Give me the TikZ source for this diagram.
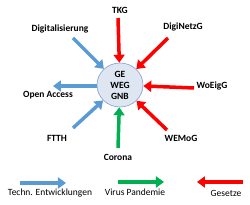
\documentclass[tikz,border=0pt]{standalone}
\usepackage{fontspec}
\setmainfont{Carlito}
\usepackage{tikz}
\usetikzlibrary{positioning,arrows.meta,shapes.geometric}
\definecolor{techblue}{HTML}{5B9BD5}
\definecolor{lawred}{HTML}{FF0000}
\definecolor{virusgreen}{HTML}{00B050}
\definecolor{ellfill}{HTML}{DEE6F2}
\definecolor{elldraw}{HTML}{7F9FCF}

\begin{document}
\begin{tikzpicture}[x=1pt, y=-1pt,
		lbl/.style={font=\fontsize{9.5}{11}\selectfont\bfseries, inner sep=1pt},
		leglbl/.style={font=\fontsize{9.5}{11}\selectfont, inner sep=1pt},
		center/.style={ellipse, draw=elldraw, fill=ellfill, line width=0.6pt,
				minimum width=46pt, minimum height=44pt, inner sep=0pt, align=center,
				font=\fontsize{9.5}{11}\selectfont\bfseries},
		ar/.style={-{Triangle[length=8pt,width=11pt]}, line width=3.5pt},
		bar/.style={ar, draw=techblue},
		rar/.style={ar, draw=lawred},
		gar/.style={ar, draw=virusgreen},
	]
	\useasboundingbox (0,0) rectangle (250,205);
	\node[center] (ell) at (120,85) {GE\\WEG\\GNB};
	% Gesetze
	\node[lbl] (tkg)   at (120,10)  {TKG};
	\node[lbl] (digi)  at (183,27)  {DigiNetzG};
	\node[lbl] (woe)   at (212,86)  {WoEigG};
	\node[lbl] (wemo)  at (181,138) {WEMoG};
	\coordinate (s-tkg)  at (118,18);
	\coordinate (s-digi) at (168,38);
	\coordinate (s-woe)  at (194,88);
	\coordinate (s-wemo) at (167,130);
	\draw[rar] (s-tkg)  -- (ell);
	\draw[rar] (s-digi) -- (ell);
	\draw[rar] (s-woe)  -- (ell);
	\draw[rar] (s-wemo) -- (ell);
	% Virus
	\node[lbl] (cor) at (118,157) {Corona};
	\coordinate (s-cor) at (118,148);
	\draw[gar] (s-cor) -- (ell);
	% Techn. Entwicklungen
	\node[lbl] (dig)  at (60,29)  {Digitalisierung};
	\node[lbl] (oa)   at (48,95)  {Open Access};
	\node[lbl] (ftth) at (57,138) {FTTH};
	\coordinate (s-dig)  at (73,38);
	\coordinate (e-oa)   at (53,86);
	\coordinate (s-ftth) at (73,128);
	\draw[bar] (s-dig)  -- (ell);
	\draw[bar] (ell.west |- e-oa) -- (e-oa);
	\draw[bar] (s-ftth) -- (ell);
	% Legende
	\coordinate (l1a) at (20,183);
	\coordinate (l1b) at (66,183);
	\coordinate (l2a) at (118,182);
	\coordinate (l2b) at (164,182);
	\coordinate (l3a) at (243,182);
	\coordinate (l3b) at (197,182);
	\draw[bar] (l1a) -- (l1b);
	\draw[gar] (l2a) -- (l2b);
	\draw[rar] (l3a) -- (l3b);
	\node[leglbl] (leg1) at (50,193)  {Techn. Entwicklungen};
	\node[leglbl] (leg2) at (135,192) {Virus Pandemie};
	\node[leglbl] (leg3) at (226,193) {Gesetze};
\end{tikzpicture}
\end{document}
